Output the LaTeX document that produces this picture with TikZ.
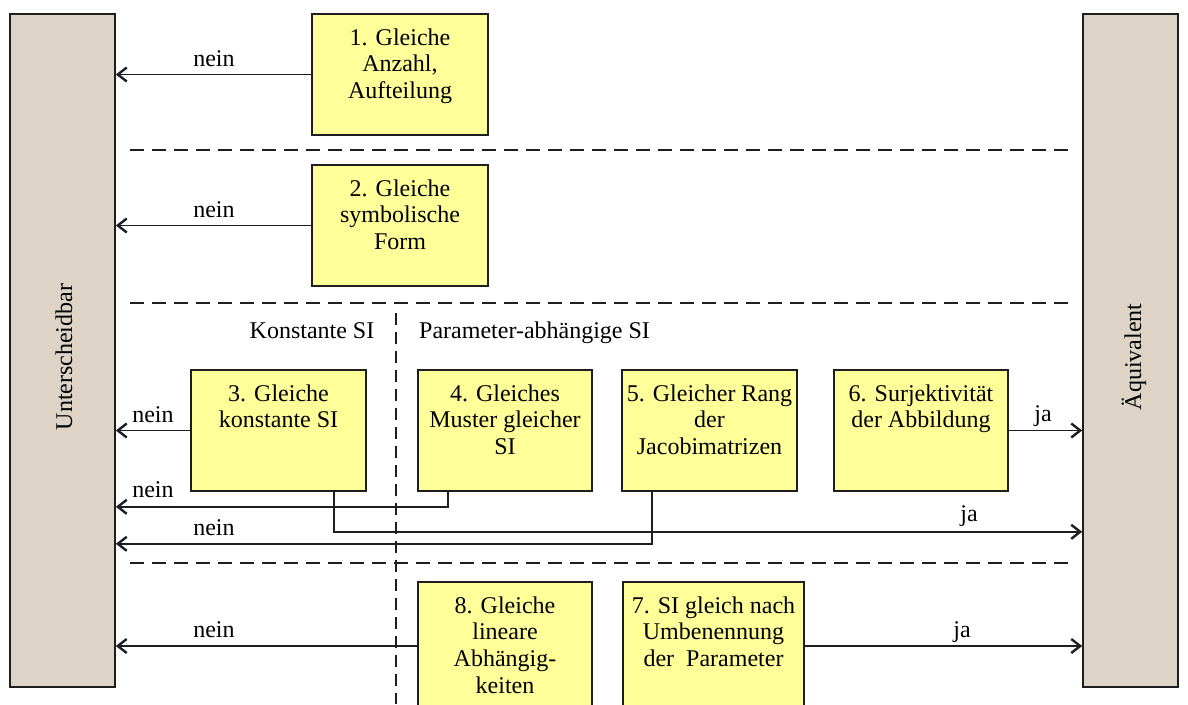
\documentclass[tikz,border=0pt]{standalone}
\usepackage{fontspec}
\setmainfont{Liberation Serif}
\usetikzlibrary{arrows.meta}
\definecolor{barfill}{RGB}{221,211,199}
\definecolor{boxfill}{RGB}{255,255,153}
\definecolor{ink}{RGB}{30,30,30}
\begin{document}
\begin{tikzpicture}[x=1pt,y=-1pt,
  font=\fontsize{24}{26.7}\selectfont,
  bar/.style={draw=ink, line width=1.6pt, fill=barfill, minimum width=105pt,
    minimum height=673pt, inner sep=0pt},
  testbox/.style={draw=ink, line width=1.6pt, fill=boxfill, minimum width=175pt,
    minimum height=121pt, inner sep=0pt},
  boxtext/.style={anchor=north, align=center, inner sep=0pt},
  conn/.style={draw=ink, line width=1.8pt},
  arr/.style={conn, -{Straight Barb[length=9pt,width=14pt,line width=2.4pt]}},
  sepline/.style={draw=ink, line width=1.5pt, dash pattern=on 14pt off 8pt},
  lbl/.style={inner sep=0pt, anchor=base}]
\useasboundingbox (0,0) rectangle (1188,704);
\clip (0,0) rectangle (1188,704);

% outcome bars
\node[bar] (L) at (62.5,350.5) {};
\node[bar, minimum width=95pt] (R) at (1130.5,350.5) {};
\node[rotate=90, inner sep=0pt] (Lt) at (64,357) {Unterscheidbar};
\node[rotate=90, inner sep=0pt] (Rt) at (1134,357) {Äquivalent};

% stage separators
\draw[sepline] (130,150) -- (1070,150);
\draw[sepline] (130,303) -- (1070,303);
\draw[sepline] (130,563) -- (1070,563);
\draw[sepline, dash pattern=on 12pt off 7pt] (396,313) -- (396,704);

\node[lbl] (ks) at (312,338) {Konstante SI};
\node[lbl, anchor=base west] (ps) at (419,338) {Parameter-abhängige SI};

% test boxes
\node[testbox, minimum width=176pt] (b1) at (400,74.5) {};
\node[testbox, minimum width=176pt] (b2) at (400,225.5) {};
\node[testbox] (b3) at (278.5,430.5) {};
\node[testbox, minimum width=174pt] (b4) at (505,430.5) {};
\node[testbox] (b5) at (709.5,430.5) {};
\node[testbox, minimum width=174pt] (b6) at (921,430.5) {};
\node[testbox, minimum width=174pt, minimum height=128pt] (b8) at (505,646) {};
\node[testbox, minimum width=181pt, minimum height=128pt] (b7) at (713.5,646) {};

\node[boxtext] (t1) at ([yshift=-15pt]b1.north) {1. Gleiche\\Anzahl,\\Aufteilung};
\node[boxtext] (t2) at ([yshift=-15pt]b2.north) {2. Gleiche\\symbolische\\Form};
\node[boxtext] (t3) at ([yshift=-15pt]b3.north) {3. Gleiche\\konstante SI};
\node[boxtext] (t4) at ([yshift=-15pt]b4.north) {4. Gleiches\\Muster gleicher\\SI};
\node[boxtext] (t5) at ([yshift=-15pt]b5.north) {5. Gleicher Rang\\der\\Jacobimatrizen};
\node[boxtext] (t6) at ([yshift=-15pt]b6.north) {6. Surjektivität\\der Abbildung};
\node[boxtext] (t8) at ([yshift=-15pt]b8.north) {8. Gleiche\\lineare\\Abhängig-\\keiten};
\node[boxtext] (t7) at ([yshift=-15pt]b7.north) {7. SI gleich nach\\Umbenennung\\der~~Parameter};

% connectors
\draw[arr] (b1.west) -- (b1.west -| L.east);
\draw[arr] (b2.west) -- (b2.west -| L.east);
\draw[arr] (b3.west) -- (b3.west -| L.east);
\draw[arr] ([xshift=31pt]b4.south west) -- ++(0,15) coordinate (k4) -- (k4 -| L.east);
\draw[arr] ([xshift=144pt]b3.south west) -- ++(0,40) coordinate (k3) -- (k3 -| R.west);
\draw[arr] ([xshift=31pt]b5.south west) -- ++(0,52) coordinate (k5) -- (k5 -| L.east);
\draw[arr] (b6.east) -- (b6.east -| R.west);
\draw[arr] (b8.west) -- (b8.west -| L.east);
\draw[arr] (b7.east) -- (b7.east -| R.west);

% connector labels
\node[lbl] (n1) at (214,66) {nein};
\node[lbl] (n2) at (214,217) {nein};
\node[lbl] (n3) at (153,422) {nein};
\node[lbl] (n4) at (153,497) {nein};
\node[lbl] (n5) at (214,535) {nein};
\node[lbl] (n8) at (214,637) {nein};
\node[lbl] (j6) at (1043,421) {ja};
\node[lbl] (j3) at (969,521) {ja};
\node[lbl] (j7) at (962,637) {ja};
\end{tikzpicture}
\end{document}
